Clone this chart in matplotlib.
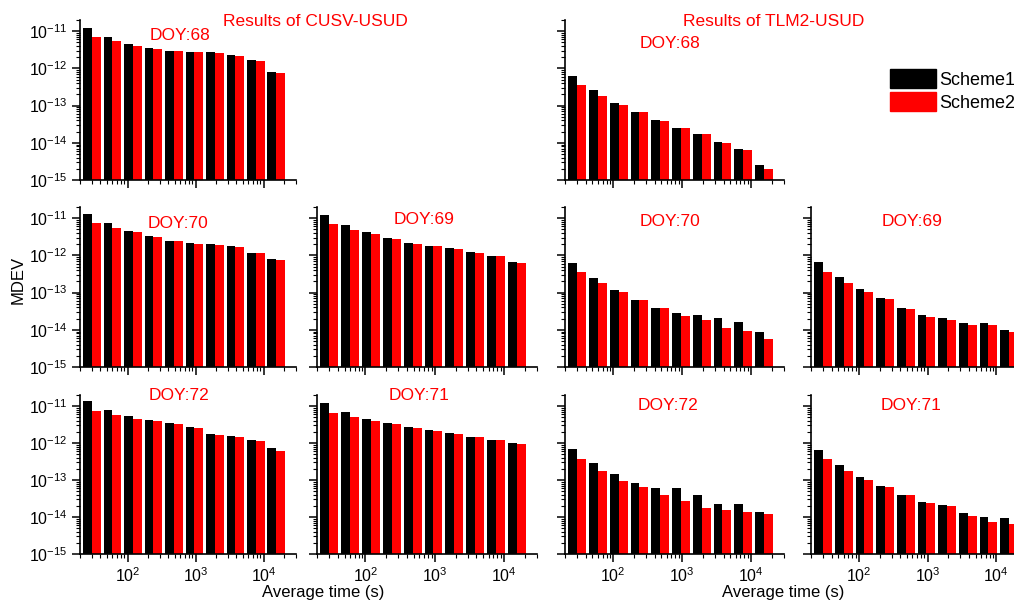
import numpy as np
import matplotlib.pyplot as plt
from matplotlib.patches import Patch

plt.rcParams['font.family'] = ['Liberation Sans', 'DejaVu Sans']
plt.rcParams['mathtext.fontset'] = 'custom'
plt.rcParams['mathtext.rm'] = 'Liberation Sans'
plt.rcParams['mathtext.it'] = 'Liberation Sans:italic'
plt.rcParams['mathtext.bf'] = 'Liberation Sans:bold'

W, H = 1014, 601

# averaging times (s)
tau = [30, 60, 120, 240, 480, 960, 1920, 3840, 7680, 15360]

# CUSV-USUD
cusv68_s1 = [1.23e-11, 6.9e-12, 4.5e-12, 3.6e-12, 2.97e-12, 2.74e-12, 2.68e-12, 2.28e-12, 1.64e-12, 7.8e-13]
cusv68_s2 = [7.2e-12, 5.3e-12, 4.0e-12, 3.4e-12, 2.91e-12, 2.74e-12, 2.58e-12, 2.18e-12, 1.54e-12, 7.5e-13]
cusv70_s1 = [1.28e-11, 7.3e-12, 4.6e-12, 3.3e-12, 2.49e-12, 2.2e-12, 2.07e-12, 1.82e-12, 1.18e-12, 7.8e-13]
cusv70_s2 = [7.5e-12, 5.5e-12, 4.3e-12, 3.1e-12, 2.44e-12, 2.07e-12, 1.94e-12, 1.71e-12, 1.13e-12, 7.5e-13]
cusv69_s1 = [1.2e-11, 6.5e-12, 4.2e-12, 3.0e-12, 2.11e-12, 1.79e-12, 1.58e-12, 1.26e-12, 9.8e-13, 6.7e-13]
cusv69_s2 = [7.0e-12, 4.9e-12, 3.85e-12, 2.8e-12, 2.07e-12, 1.79e-12, 1.48e-12, 1.18e-12, 9.6e-13, 6.2e-13]
cusv72_s1 = [1.36e-11, 7.96e-12, 5.5e-12, 4.1e-12, 3.55e-12, 2.76e-12, 1.79e-12, 1.51e-12, 1.18e-12, 7.3e-13]
cusv72_s2 = [7.5e-12, 5.6e-12, 4.55e-12, 3.85e-12, 3.33e-12, 2.49e-12, 1.64e-12, 1.48e-12, 1.11e-12, 6.1e-13]
cusv71_s1 = [1.2e-11, 7.0e-12, 4.56e-12, 3.42e-12, 2.72e-12, 2.26e-12, 1.84e-12, 1.5e-12, 1.24e-12, 9.9e-13]
cusv71_s2 = [6.6e-12, 5.06e-12, 4.03e-12, 3.28e-12, 2.56e-12, 2.12e-12, 1.77e-12, 1.44e-12, 1.19e-12, 9.7e-13]

# TLM2-USUD
tlm68_s1 = [6.2e-13, 2.6e-13, 1.18e-13, 6.7e-14, 4.0e-14, 2.44e-14, 1.68e-14, 1.04e-14, 6.6e-15, 2.4e-15]
tlm68_s2 = [3.5e-13, 1.79e-13, 1.06e-13, 6.6e-14, 3.9e-14, 2.44e-14, 1.68e-14, 1.0e-14, 6.3e-15, 1.86e-15]
tlm70_s1 = [6.2e-13, 2.49e-13, 1.18e-13, 6.5e-14, 3.9e-14, 2.76e-14, 2.54e-14, 2.11e-14, 1.64e-14, 8.6e-15]
tlm70_s2 = [3.5e-13, 1.79e-13, 1.02e-13, 6.2e-14, 3.85e-14, 2.39e-14, 1.82e-14, 1.11e-14, 9.2e-15, 5.6e-15]
tlm69_s1 = [6.5e-13, 2.6e-13, 1.23e-13, 7.0e-14, 3.8e-14, 2.44e-14, 2.02e-14, 1.51e-14, 1.48e-14, 1.0e-14]
tlm69_s2 = [3.6e-13, 1.86e-13, 1.06e-13, 6.6e-14, 3.55e-14, 2.2e-14, 1.79e-14, 1.31e-14, 1.31e-14, 8.8e-15]
tlm72_s1 = [6.9e-13, 2.82e-13, 1.42e-13, 8.1e-14, 6.2e-14, 5.96e-14, 3.9e-14, 2.25e-14, 2.2e-14, 1.39e-14]
tlm72_s2 = [3.6e-13, 1.79e-13, 9.6e-14, 6.3e-14, 4.0e-14, 2.76e-14, 1.71e-14, 1.51e-14, 1.36e-14, 1.23e-14]
tlm71_s1 = [6.7e-13, 2.6e-13, 1.18e-13, 6.7e-14, 3.9e-14, 2.54e-14, 2.07e-14, 1.31e-14, 1.02e-14, 9.2e-15]
tlm71_s2 = [3.6e-13, 1.79e-13, 1.02e-13, 6.3e-14, 3.85e-14, 2.44e-14, 2.02e-14, 1.04e-14, 7.3e-15, 6.5e-15]

# (row, col, scheme1, scheme2, label, label x/y in pixels)
panels = [
    (0, 0, cusv68_s1, cusv68_s2, 'DOY:68', (180, 35)),
    (0, 2, tlm68_s1, tlm68_s2, 'DOY:68', (670, 44)),
    (1, 0, cusv70_s1, cusv70_s2, 'DOY:70', (178, 224)),
    (1, 1, cusv69_s1, cusv69_s2, 'DOY:69', (424, 220)),
    (1, 2, tlm70_s1, tlm70_s2, 'DOY:70', (670, 221)),
    (1, 3, tlm69_s1, tlm69_s2, 'DOY:69', (912, 222)),
    (2, 0, cusv72_s1, cusv72_s2, 'DOY:72', (179, 396)),
    (2, 1, cusv71_s1, cusv71_s2, 'DOY:71', (419, 395)),
    (2, 2, tlm72_s1, tlm72_s2, 'DOY:72', (668, 406)),
    (2, 3, tlm71_s1, tlm71_s2, 'DOY:71', (911, 406)),
]

col_x = [(80, 296), (317, 537), (565, 784), (811, 1029)]
row_y = [(20, 180), (207, 367), (395, 554)]

fig = plt.figure(figsize=(W / 100, H / 100), dpi=100)

f = 10 ** 0.129  # bar width factor in log space
t = np.array(tau, dtype=float)

for row, col, s1, s2, label, (lx, ly) in panels:
    x0, x1 = col_x[col]
    y0, y1 = row_y[row]
    ax = fig.add_axes([x0 / W, 1 - y1 / H, (x1 - x0) / W, (y1 - y0) / H])
    ax.set_xscale('log')
    ax.set_yscale('log')
    ax.bar(t / f, s1, width=t - t / f, align='edge', color='black', bottom=1e-16)
    ax.bar(t, s2, width=t * f - t, align='edge', color='#ff0000', bottom=1e-16)
    ax.set_xlim(20, 30000)
    ax.set_ylim(1e-15, 2e-11)
    for s in ['top', 'right']:
        ax.spines[s].set_visible(False)
    for s in ['left', 'bottom']:
        ax.spines[s].set_linewidth(1.2)
    ax.tick_params(which='major', direction='out', length=5.5, width=1.1, labelsize=11.5)
    ax.tick_params(which='minor', direction='out', length=3, width=0.8)
    if col != 0:
        ax.tick_params(axis='y', which='both', labelleft=False)
    if row != 2:
        ax.tick_params(axis='x', which='both', labelbottom=False)
    ax.set_yticks([1e-15, 1e-14, 1e-13, 1e-12, 1e-11])
    fig.text(lx / W, 1 - ly / H, label, color='#ff0000', fontsize=12.5,
             ha='center', va='center')

fig.text(315 / W, 1 - 22 / H, 'Results of CUSV-USUD', color='#ff0000',
         fontsize=12.5, ha='center', va='center')
fig.text(774 / W, 1 - 21 / H, 'Results of TLM2-USUD', color='#ff0000',
         fontsize=12.5, ha='center', va='center')
fig.text(18 / W, 1 - 280 / H, 'MDEV', fontsize=12, rotation=90,
         ha='center', va='center')
fig.text(323 / W, 1 - 592 / H, 'Average time (s)', fontsize=12,
         ha='center', va='center')
fig.text(783 / W, 1 - 592 / H, 'Average time (s)', fontsize=12,
         ha='center', va='center')

handles = [Patch(facecolor='black', edgecolor='black'),
           Patch(facecolor='#ff0000', edgecolor='#ff0000')]
fig.legend(handles, ['Scheme1', 'Scheme2'], loc='upper left',
           bbox_to_anchor=(890 / W, 1 - 69 / H), frameon=False, fontsize=13,
           handlelength=2.55, handleheight=1.25, handletextpad=0.2,
           labelspacing=0.2, borderpad=0, borderaxespad=0)

fig.savefig('out.png', dpi=100)
